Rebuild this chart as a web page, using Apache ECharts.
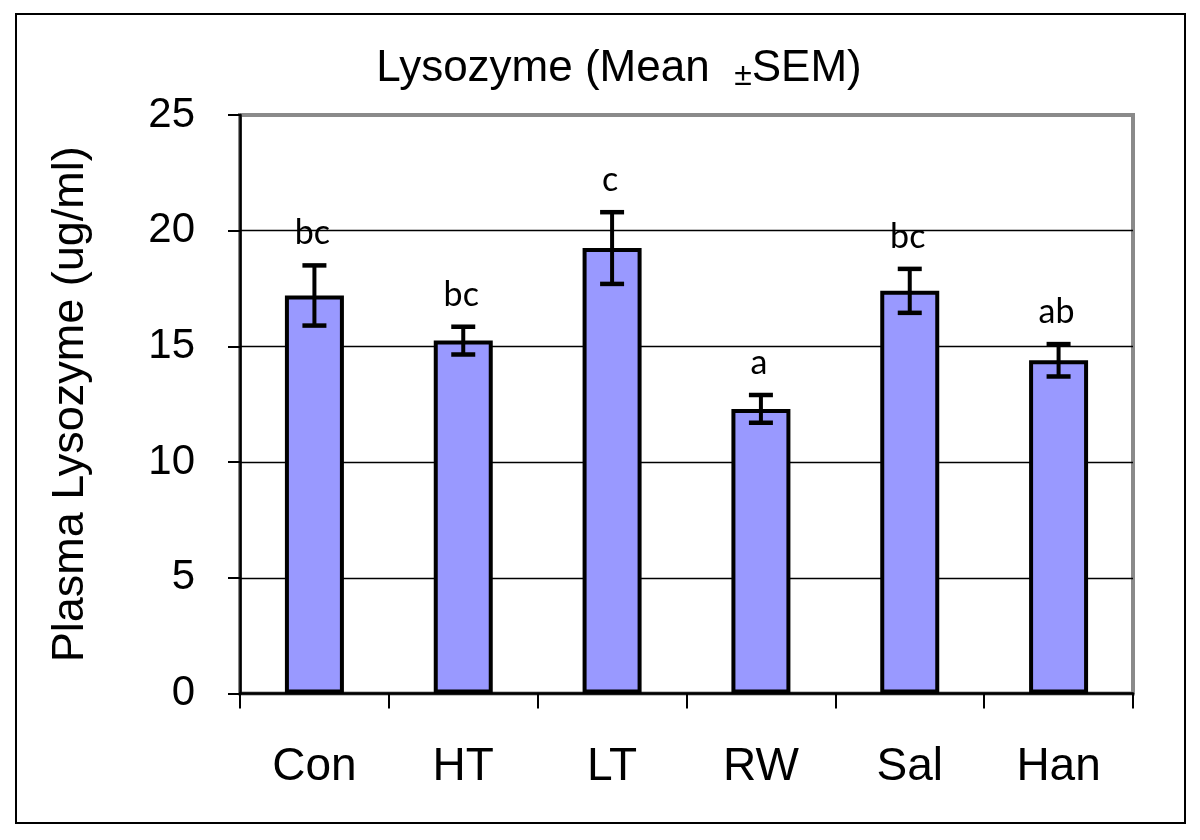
<!DOCTYPE html>
<html>
<head>
<meta charset="utf-8">
<script src="https://cdn.jsdelivr.net/npm/echarts@6/dist/echarts.min.js"></script>
<style>
html,body{margin:0;padding:0;background:#fff;}
#chart{width:1200px;height:840px;}
</style>
</head>
<body>
<div id="chart"></div>
<script>
// ---- data ----
var categories = ['Con', 'HT', 'LT', 'RW', 'Sal', 'Han'];
var means = [17.2, 15.25, 19.25, 12.3, 17.4, 14.4];
var sems = [1.3, 0.6, 1.55, 0.6, 0.95, 0.7];
var letters = ['bc', 'bc', 'c', 'a', 'bc', 'ab'];
var yTicks = [0, 5, 10, 15, 20, 25];

var errData = categories.map(function (c, i) { return [i, means[i], sems[i]]; });

var chart = echarts.init(document.getElementById('chart'), null, { renderer: 'canvas' });

var option = {
  backgroundColor: '#ffffff',
  animation: false,
  title: {
    text: 'Lysozyme (Mean  {pm|±}SEM)',
    left: 614,
    top: 41,
    textAlign: 'center',
    textStyle: {
      fontFamily: 'Liberation Sans',
      fontSize: 44,
      fontWeight: 'normal',
      color: '#000',
      rich: {
        pm: { fontFamily: 'Liberation Sans', fontSize: 32, color: '#000', verticalAlign: 'bottom', padding: [14, 0, 0, 0] }
      }
    }
  },
  graphic: [{
    type: 'rect',
    shape: { x: 16, y: 14, width: 1169, height: 809 },
    style: { fill: 'none', stroke: '#000', lineWidth: 2 },
    silent: true
  }],
  grid: {
    left: 240, right: 67, top: 115, bottom: 146.5,
    show: true,
    borderColor: '#8a8a8a',
    borderWidth: 4,
    backgroundColor: '#fff'
  },
  xAxis: {
    type: 'category',
    data: categories,
    axisLine: { show: true, lineStyle: { color: '#000', width: 2.5 } },
    axisTick: { show: true, length: 15, lineStyle: { color: '#000', width: 2 } },
    axisLabel: {
      fontFamily: 'Liberation Sans',
      fontSize: 46,
      color: '#000',
      margin: 51
    },
    splitLine: { show: false }
  },
  yAxis: {
    type: 'value',
    min: 0, max: 25, interval: 5,
    name: 'Plasma Lysozyme (ug/ml)',
    nameLocation: 'middle',
    nameRotate: 90,
    nameGap: 147,
    nameTextStyle: { fontFamily: 'Liberation Sans', fontSize: 45, color: '#000' },
    axisLine: { show: true, lineStyle: { color: '#000', width: 2.5 } },
    axisTick: { show: true, length: 12, lineStyle: { color: '#000', width: 2 } },
    axisLabel: {
      fontFamily: 'Liberation Sans',
      fontSize: 42,
      color: '#000',
      margin: 45,
      formatter: function (v) { return yTicks.indexOf(v) >= 0 ? String(v) : ''; }
    },
    splitLine: { show: true, lineStyle: { color: ['#000', '#000', '#000', '#000', '#000', '#8a8a8a'], width: 1.4 } }
  },
  series: [
    {
      type: 'bar',
      data: means,
      barWidth: 59,
      itemStyle: { color: '#9999FF', borderColor: '#000', borderWidth: 4 },
      z: 2
    },
    {
      type: 'custom',
      data: errData,
      z: 3,
      renderItem: function (params, api) {
        var i = api.value(0);
        var m = api.value(1);
        var s = api.value(2);
        var top = api.coord([i, m + s]);
        var bot = api.coord([i, m - s]);
        var hw = 12;
        return {
          type: 'group',
          children: [
            { type: 'line', shape: { x1: top[0], y1: top[1], x2: bot[0], y2: bot[1] }, style: { stroke: '#000', lineWidth: 4 } },
            { type: 'line', shape: { x1: top[0] - hw, y1: top[1], x2: top[0] + hw, y2: top[1] }, style: { stroke: '#000', lineWidth: 4.5 } },
            { type: 'line', shape: { x1: bot[0] - hw, y1: bot[1], x2: bot[0] + hw, y2: bot[1] }, style: { stroke: '#000', lineWidth: 4.5 } },
            { type: 'text', style: {
                text: letters[params.dataIndex],
                x: top[0] - 2, y: top[1] - 32,
                align: 'center', verticalAlign: 'middle',
                font: '34px Lato, "Liberation Sans", sans-serif',
                fill: '#000'
              } }
          ]
        };
      }
    }
  ]
};
chart.setOption(option);
</script>
</body>
</html>
